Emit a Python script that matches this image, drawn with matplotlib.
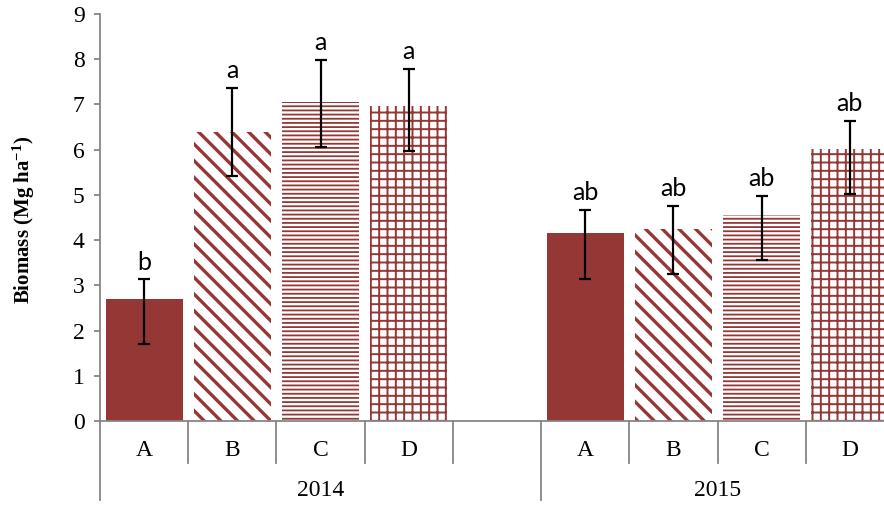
import matplotlib
matplotlib.use("Agg")
import matplotlib.pyplot as plt
import matplotlib.transforms as mtransforms
from matplotlib import font_manager
import numpy as np

# ---------------- data ----------------
years = ['2014', '2015']
treatments = ['A', 'B', 'C', 'D']
biomass_2014 = [2.69, 6.39, 7.06, 6.96]
biomass_2015 = [4.15, 4.25, 4.56, 6.02]
err_top_2014 = [3.13, 7.36, 7.99, 7.79]
err_bot_2014 = [1.70, 5.41, 6.05, 5.98]
err_top_2015 = [4.67, 4.76, 4.98, 6.64]
err_bot_2015 = [3.15, 3.26, 3.56, 5.01]
letters_2014 = ['b', 'a', 'a', 'a']
letters_2015 = ['ab', 'ab', 'ab', 'ab']
yticks = list(range(0, 10))

# ---------------- style ----------------
plt.rcParams['font.family'] = ['Liberation Serif', 'DejaVu Serif']
plt.rcParams['mathtext.fontset'] = 'custom'
plt.rcParams['mathtext.rm'] = 'Liberation Serif'
plt.rcParams['mathtext.bf'] = 'Liberation Serif:bold'
plt.rcParams['mathtext.it'] = 'Liberation Serif:italic'

bar_color = '#953735'
axis_gray = '#868686'
hatches = ['', '\\\\', '----', '++']
hatch_lw = [1.0, 2.4, 1.3, 1.4]
sans = ['Lato', 'DejaVu Sans']

W, H = 884, 505
fig = plt.figure(figsize=(W / 100, H / 100), dpi=100)
ax_left, ax_right, ax_top, ax_bot = 100, 894, 14, 421
ax = fig.add_axes([ax_left / W, (H - ax_bot) / H,
                   (ax_right - ax_left) / W, (ax_bot - ax_top) / H])

n_slots = len(treatments) * 2 + 1
x2014 = np.arange(len(treatments))
x2015 = np.arange(len(treatments)) + len(treatments) + 1

def draw_group(xs, vals, tops, bots, letters):
    vals = np.array(vals); tops = np.array(tops); bots = np.array(bots)
    for i, (x, v) in enumerate(zip(xs, vals)):
        if hatches[i] == '':
            ax.bar(x, v, width=0.875, color=bar_color, linewidth=0)
        else:
            with plt.rc_context({'hatch.linewidth': hatch_lw[i]}):
                b = ax.bar(x, v, width=0.875, facecolor='white',
                           edgecolor=bar_color, hatch=hatches[i], linewidth=0)
                for p in b.patches:
                    if hasattr(p, 'set_hatch_linewidth'):
                        p.set_hatch_linewidth(hatch_lw[i])
    ax.errorbar(xs, vals, yerr=[vals - bots, tops - vals], fmt='none',
                ecolor='black', elinewidth=1.6, capsize=4.5, capthick=1.6,
                zorder=5)
    for x, t, lab in zip(xs, tops, letters):
        ax.annotate(lab, (x, t), xytext=(0, 7), textcoords='offset points',
                    ha='center', va='baseline', fontsize=18, family=sans,
                    color='black')

draw_group(x2014, biomass_2014, err_top_2014, err_bot_2014, letters_2014)
draw_group(x2015, biomass_2015, err_top_2015, err_bot_2015, letters_2015)

ax.set_xlim(-0.5, n_slots - 0.5)
ax.set_ylim(0, 9)
ax.set_yticks(yticks)
ax.set_yticklabels([str(t) for t in yticks], fontsize=17)
ax.tick_params(axis='y', direction='out', length=4, width=1.3,
               color=axis_gray, pad=7)
ax.set_xticks([])
for s in ['top', 'right']:
    ax.spines[s].set_visible(False)
for s in ['left', 'bottom']:
    ax.spines[s].set_color(axis_gray)
    ax.spines[s].set_linewidth(1.3)

# multi-level category axis
ax_h = ax_bot - ax_top
y_short = -(463 - ax_bot) / ax_h
y_long = -(500 - ax_bot) / ax_h
y_lab1 = -(451 - ax_bot) / ax_h
y_lab2 = -(491 - ax_bot) / ax_h
trans = mtransforms.blended_transform_factory(ax.transData, ax.transAxes)
for k in range(n_slots + 1):
    xb = k - 0.5
    y_end = y_long if k in (0, len(treatments) + 1, n_slots) else y_short
    ax.plot([xb, xb], [0, y_end], color=axis_gray, lw=1.3,
            transform=trans, clip_on=False)
for xs in (x2014, x2015):
    for x, t in zip(xs, treatments):
        ax.text(x, y_lab1, t, transform=trans, ha='center', va='center',
                fontsize=17)
ax.text(np.mean(np.arange(len(treatments) + 1)), y_lab2, years[0],
        transform=trans, ha='center', va='center', fontsize=17)
ax.text(np.mean(x2015), y_lab2, years[1], transform=trans,
        ha='center', va='center', fontsize=17)

fig.text(24 / W, (H - 220) / H, r'Biomass (Mg ha$^{\mathbf{-1}}$)',
         rotation=90, ha='center', va='center', fontsize=15,
         fontweight='bold')

fig.savefig('out.png', dpi=100)
